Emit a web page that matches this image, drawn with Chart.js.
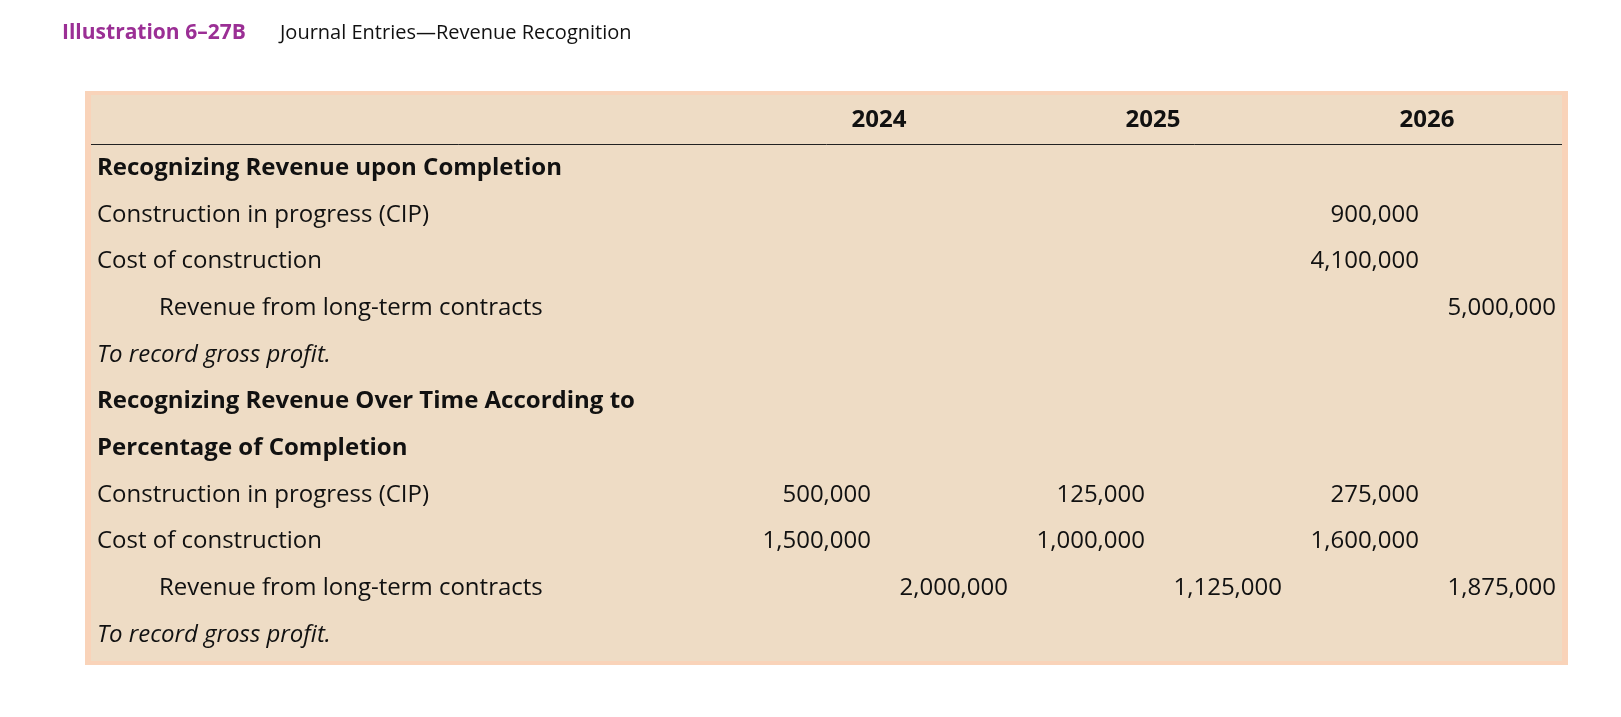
<!DOCTYPE html>
<html>
<head>
<meta charset="utf-8">
<script src="https://cdn.jsdelivr.net/npm/chart.js@4/dist/chart.umd.min.js"></script>
<style>
  html, body { margin: 0; padding: 0; background: #fff; }
</style>
</head>
<body>
<canvas id="journal" width="1621" height="717"></canvas>
<script>
// Table data
const years = ["2024", "2025", "2026"];
const columns = ["Dr 2024", "Cr 2024", "Dr 2025", "Cr 2025", "Dr 2026", "Cr 2026"];
const rowLabels = [
    "Recognizing Revenue upon Completion",
    "Construction in progress (CIP)",
    "Cost of construction",
    "Revenue from long-term contracts",
    "To record gross profit.",
    "Recognizing Revenue Over Time According to",
    "Percentage of Completion",
    "Construction in progress (CIP)",
    "Cost of construction",
    "Revenue from long-term contracts",
    "To record gross profit."
];
const rowStyles = ["bold", "", "", "indent", "italic", "bold", "bold", "", "", "indent", "italic"];
// one array per column, indexed by row
const dr2024 = [null, null, null, null, null, null, null, 500000, 1500000, null, null];
const cr2024 = [null, null, null, null, null, null, null, null, null, 2000000, null];
const dr2025 = [null, null, null, null, null, null, null, 125000, 1000000, null, null];
const cr2025 = [null, null, null, null, null, null, null, null, null, 1125000, null];
const dr2026 = [null, 900000, 4100000, null, null, null, null, 275000, 1600000, null, null];
const cr2026 = [null, null, null, 5000000, null, null, null, null, null, 1875000, null];
const columnValues = [dr2024, cr2024, dr2025, cr2025, dr2026, cr2026];

const FONT = "'Open Sans', Lato, sans-serif";

function buildPoints() {
    const points = [];
    columnValues.forEach((vals, c) => {
        vals.forEach((v, r) => {
            if (v !== null) points.push({ x: c, y: rowLabels[r] + "#" + r, v: v });
        });
    });
    return points;
}

const tablePlugin = {
    id: "tableText",
    beforeDraw(chart) {
        const ctx = chart.ctx;
        ctx.save();
        // title
        ctx.textBaseline = "middle";
        ctx.font = "bold 21px " + FONT;
        ctx.fillStyle = "#9b2f95";
        ctx.fillText("Illustration 6\u201327B", 62, 33);
        ctx.font = "20px " + FONT;
        ctx.fillStyle = "#111";
        ctx.fillText("Journal Entries\u2014Revenue Recognition", 280, 33);
        // box
        ctx.fillStyle = "#f9d3b9";
        ctx.fillRect(85, 91, 1483, 574);
        ctx.fillStyle = "#eedcc5";
        ctx.fillRect(91, 95, 1471, 566);
        ctx.strokeStyle = "#222";
        ctx.lineWidth = 1;
        ctx.beginPath();
        ctx.moveTo(91, 144.5);
        ctx.lineTo(1562, 144.5);
        ctx.stroke();
        ctx.restore();
    },
    afterDatasetsDraw(chart) {
        const ctx = chart.ctx;
        const xs = chart.scales.x, ys = chart.scales.y;
        ctx.save();
        ctx.textBaseline = "middle";
        ctx.fillStyle = "#111";
        // header years
        ctx.font = "bold 24px " + FONT;
        ctx.textAlign = "center";
        years.forEach((y, i) => {
            ctx.fillText(y, xs.getPixelForValue(i * 2) + 8, 120);
        });
        // row labels
        ctx.textAlign = "left";
        rowLabels.forEach((label, r) => {
            const st = rowStyles[r];
            ctx.font = (st === "bold" ? "bold " : st === "italic" ? "italic " : "") + "24px " + FONT;
            ctx.fillText(label, st === "indent" ? 159 : 97, ys.getPixelForValue(r));
        });
        // amounts
        ctx.font = "24px " + FONT;
        ctx.textAlign = "right";
        chart.data.datasets[0].data.forEach(p => {
            const r = parseInt(p.y.split("#")[1], 10);
            ctx.fillText(p.v.toLocaleString("en-US"), xs.getPixelForValue(p.x), ys.getPixelForValue(r));
        });
        ctx.restore();
    }
};

new Chart(document.getElementById("journal"), {
    type: "scatter",
    data: {
        datasets: [{
            data: buildPoints(),
            pointRadius: 0,
            pointHoverRadius: 0
        }]
    },
    options: {
        responsive: false,
        animation: false,
        events: [],
        layout: { padding: { left: 871, right: 65, top: 168, bottom: 82 } },
        plugins: { legend: { display: false }, tooltip: { enabled: false } },
        scales: {
            x: { type: "linear", min: 0, max: columns.length - 1, display: false },
            y: { type: "category", labels: rowLabels.map((l, i) => l + "#" + i), offset: false, display: false }
        }
    },
    plugins: [tablePlugin]
});
</script>
</body>
</html>
